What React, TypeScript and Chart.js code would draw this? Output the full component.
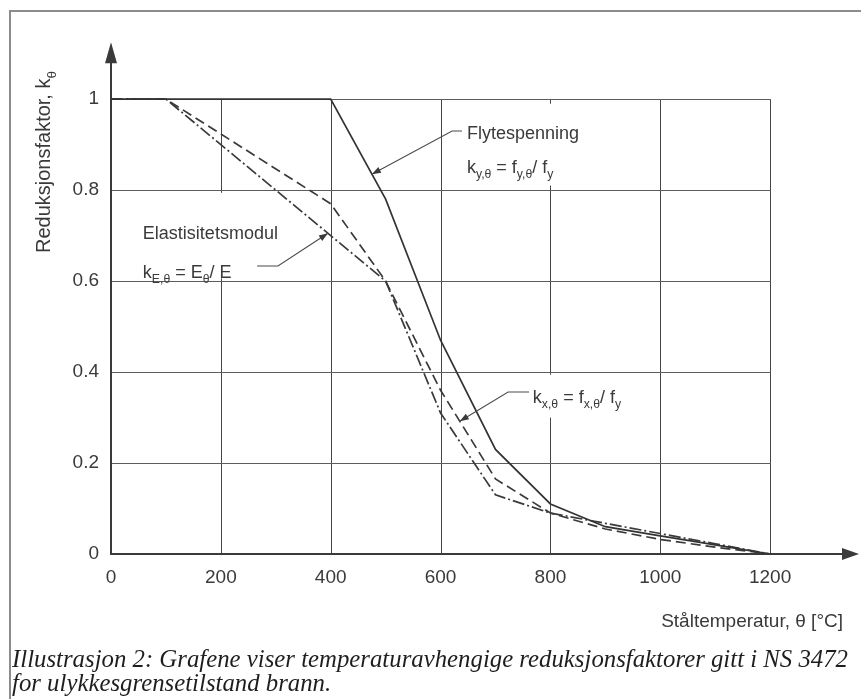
import React, { useEffect, useRef } from 'react';
import { Chart, registerables } from 'chart.js';

Chart.register(...registerables);

// ---------- data ----------
const xTicks = [0, 200, 400, 600, 800, 1000, 1200];
const yTicks = [0, 0.2, 0.4, 0.6, 0.8, 1];

// Flytespenning k_y,θ (solid)
const yieldTemps = [0, 400, 500, 600, 700, 800, 900, 1000, 1100, 1200];
const yieldFactors = [1, 1, 0.78, 0.47, 0.23, 0.11, 0.06, 0.04, 0.02, 0];

// k_x,θ (dashed)
const proofTemps = [0, 100, 400, 500, 600, 700, 800, 900, 1000, 1100, 1200];
const proofFactors = [1, 1, 0.77, 0.6, 0.36, 0.165, 0.09, 0.055, 0.032, 0.015, 0];

// Elastisitetsmodul k_E,θ (dash-dot)
const modulusTemps = [0, 100, 200, 300, 400, 500, 600, 700, 800, 900, 1000, 1100, 1200];
const modulusFactors = [1, 1, 0.9, 0.8, 0.7, 0.6, 0.31, 0.13, 0.09, 0.0675, 0.045, 0.0225, 0];

type Seg = { t: string; sub?: boolean };

const yAxisTitle: Seg[] = [{ t: 'Reduksjonsfaktor, k' }, { t: 'θ', sub: true }];
const xAxisTitle = 'Ståltemperatur, θ [°C]';
const captionLines = [
  'Illustrasjon 2: Grafene viser temperaturavhengige reduksjonsfaktorer gitt i NS 3472',
  'for ulykkesgrensetilstand brann.',
];

const flyLabel: Seg[] = [{ t: 'Flytespenning' }];
const flyFormula: Seg[] = [
  { t: 'k' }, { t: 'y,θ', sub: true }, { t: ' = f' }, { t: 'y,θ', sub: true }, { t: '/ f' }, { t: 'y', sub: true },
];
const eLabel: Seg[] = [{ t: 'Elastisitetsmodul' }];
const eFormula: Seg[] = [
  { t: 'k' }, { t: 'E,θ', sub: true }, { t: ' = E' }, { t: 'θ', sub: true }, { t: '/ E' },
];
const kxFormula: Seg[] = [
  { t: 'k' }, { t: 'x,θ', sub: true }, { t: ' = f' }, { t: 'x,θ', sub: true }, { t: '/ f' }, { t: 'y', sub: true },
];

// annotation anchors in data units (temperature, factor)
const annotations = [
  {
    lines: [
      { segs: flyLabel, at: [648, 0.912] },
      { segs: flyFormula, at: [648, 0.837] },
    ],
    leader: [[639, 0.93], [621, 0.93], [475, 0.835]],
    mask: [640, 0.99, 860, 0.81],
  },
  {
    lines: [
      { segs: eLabel, at: [58, 0.692] },
      { segs: eFormula, at: [58, 0.607] },
    ],
    leader: [[266, 0.633], [304, 0.633], [395, 0.705]],
    mask: [55, 0.794, 320, 0.606],
  },
  {
    lines: [{ segs: kxFormula, at: [768, 0.332] }],
    leader: [[761, 0.356], [723, 0.356], [635, 0.292]],
    mask: [760, 0.394, 960, 0.3],
  },
];

const X_MAX = 1360;
const Y_MAX = 1.13;
const Y_ARROW = 1.125;
const FONT = '"Liberation Sans", Arial, sans-serif';
const SERIF = '"Liberation Serif", "Times New Roman", serif';
const INK = '#3a3a3a';

function drawRich(ctx: CanvasRenderingContext2D, segs: Seg[], x: number, y: number, size: number) {
  let cx = x;
  for (const s of segs) {
    const fs = s.sub ? size * 0.68 : size;
    ctx.font = `${fs}px ${FONT}`;
    ctx.fillText(s.t, cx, s.sub ? y + size * 0.28 : y);
    cx += ctx.measureText(s.t).width;
  }
  return cx - x;
}

function richWidth(ctx: CanvasRenderingContext2D, segs: Seg[], size: number) {
  let w = 0;
  for (const s of segs) {
    const fs = s.sub ? size * 0.68 : size;
    ctx.font = `${fs}px ${FONT}`;
    w += ctx.measureText(s.t).width;
  }
  return w;
}

function arrowHead(ctx: CanvasRenderingContext2D, fx: number, fy: number, tx: number, ty: number, len: number, half: number) {
  const a = Math.atan2(ty - fy, tx - fx);
  const bx = tx - len * Math.cos(a);
  const by = ty - len * Math.sin(a);
  ctx.beginPath();
  ctx.moveTo(tx, ty);
  ctx.lineTo(bx + half * Math.sin(a), by - half * Math.cos(a));
  ctx.lineTo(bx - half * Math.sin(a), by + half * Math.cos(a));
  ctx.closePath();
  ctx.fill();
}

const decorPlugin = {
  id: 'decor',
  beforeDatasetsDraw(chart: any) {
    const { ctx, chartArea } = chart;
    const x = chart.scales.x;
    const y = chart.scales.y;
    ctx.save();
    // grid
    ctx.lineWidth = 1;
    ctx.strokeStyle = '#454545';
    for (const v of xTicks) {
      if (v === 0) continue;
      const px = Math.round(x.getPixelForValue(v)) + 0.5;
      ctx.beginPath();
      ctx.moveTo(px, y.getPixelForValue(0));
      ctx.lineTo(px, Math.round(y.getPixelForValue(1)));
      ctx.stroke();
    }
    ctx.strokeStyle = '#5c5c5c';
    for (const v of yTicks) {
      if (v === 0) continue;
      const py = Math.round(y.getPixelForValue(v)) + 0.5;
      ctx.beginPath();
      ctx.moveTo(x.getPixelForValue(0), py);
      ctx.lineTo(Math.round(x.getPixelForValue(1200)) + 1, py);
      ctx.stroke();
    }
    // label masks (grid is interrupted behind labels)
    ctx.fillStyle = '#ffffff';
    for (const an of annotations) {
      const [a, b, c, d] = an.mask;
      const x1 = x.getPixelForValue(a);
      const x2 = x.getPixelForValue(c);
      const y1 = y.getPixelForValue(b);
      const y2 = y.getPixelForValue(d);
      ctx.fillRect(x1, y1, x2 - x1, y2 - y1);
    }
    // axes
    const x0 = x.getPixelForValue(0);
    const y0 = y.getPixelForValue(0);
    const yTip = y.getPixelForValue(Y_ARROW);
    const xTip = chartArea.right + 1;
    ctx.strokeStyle = INK;
    ctx.fillStyle = INK;
    ctx.lineWidth = 2;
    ctx.beginPath();
    ctx.moveTo(x0, y0);
    ctx.lineTo(x0, yTip + 10);
    ctx.stroke();
    ctx.beginPath();
    ctx.moveTo(x0 - 1, y0);
    ctx.lineTo(xTip - 10, y0);
    ctx.stroke();
    arrowHead(ctx, x0, y0, x0, yTip, 21, 6);
    arrowHead(ctx, x0, y0, xTip, y0, 17, 6);

    // annotation texts
    ctx.textBaseline = 'alphabetic';
    ctx.textAlign = 'left';
    ctx.fillStyle = INK;
    for (const an of annotations) {
      for (const ln of an.lines) {
        const lx = x.getPixelForValue(ln.at[0]);
        const ly = y.getPixelForValue(ln.at[1]);
        drawRich(ctx, ln.segs, lx, ly, 18);
      }
    }
    ctx.restore();
  },
  afterDatasetsDraw(chart: any) {
    const { ctx } = chart;
    const x = chart.scales.x;
    const y = chart.scales.y;
    ctx.save();
    ctx.strokeStyle = '#4a4a4a';
    ctx.fillStyle = '#3a3a3a';
    ctx.lineWidth = 1.1;
    for (const an of annotations) {
      const pts = an.leader.map((p) => [x.getPixelForValue(p[0]), y.getPixelForValue(p[1])]);
      ctx.beginPath();
      ctx.moveTo(pts[0][0], pts[0][1]);
      for (let i = 1; i < pts.length; i++) ctx.lineTo(pts[i][0], pts[i][1]);
      ctx.stroke();
      const n = pts.length;
      arrowHead(ctx, pts[n - 2][0], pts[n - 2][1], pts[n - 1][0], pts[n - 1][1], 9, 3.2);
    }
    ctx.restore();
  },
  afterDraw(chart: any) {
    const { ctx } = chart;
    ctx.save();
    ctx.fillStyle = INK;
    ctx.textBaseline = 'alphabetic';
    // y-axis title (rotated)
    ctx.save();
    ctx.translate(43, 162);
    ctx.rotate(-Math.PI / 2);
    const tw = richWidth(ctx, yAxisTitle, 20);
    drawRich(ctx, yAxisTitle, -tw / 2, 7, 20);
    ctx.restore();
    // x-axis title (right aligned)
    ctx.font = `19px ${FONT}`;
    ctx.textAlign = 'right';
    ctx.fillText(xAxisTitle, 843, 627);
    // caption
    ctx.textAlign = 'left';
    ctx.fillStyle = '#1e1e1e';
    ctx.font = `italic 26px ${SERIF}`;
    const m = ctx.measureText(captionLines[0]).width;
    const sx = 836 / m;
    const baselines = [667, 691];
    captionLines.forEach((line, i) => {
      ctx.save();
      ctx.translate(12, baselines[i]);
      ctx.scale(sx, 1);
      ctx.fillText(line, 0, 0);
      ctx.restore();
    });
    ctx.restore();
  },
};

function toPoints(temps: number[], vals: number[]) {
  return temps.map((t, i) => ({ x: t, y: vals[i] }));
}

export default function App() {
  const ref = useRef<HTMLCanvasElement | null>(null);
  useEffect(() => {
    if (!ref.current) return;
    const chart = new Chart(ref.current, {
      type: 'line',
      data: {
        datasets: [
          {
            label: 'k_y,θ',
            data: toPoints(yieldTemps, yieldFactors),
            borderColor: '#333333',
            borderWidth: 1.7,
            pointRadius: 0,
            tension: 0,
          },
          {
            label: 'k_x,θ',
            data: toPoints(proofTemps, proofFactors),
            borderColor: '#3a3a3a',
            borderWidth: 1.7,
            borderDash: [10, 5],
            pointRadius: 0,
            tension: 0,
          },
          {
            label: 'k_E,θ',
            data: toPoints(modulusTemps, modulusFactors),
            borderColor: '#3a3a3a',
            borderWidth: 1.7,
            borderDash: [12, 3, 2, 3],
            pointRadius: 0,
            tension: 0,
          },
        ],
      },
      options: {
        responsive: false,
        animation: false,
        layout: { padding: { top: 40, right: 3, left: 0, bottom: 0 } },
        plugins: {
          legend: { display: false },
          tooltip: { enabled: false },
          title: { display: false },
        },
        scales: {
          x: {
            type: 'linear',
            min: 0,
            max: X_MAX,
            grid: { display: false, drawTicks: false, tickLength: 0 },
            border: { display: false },
            afterBuildTicks: (s: any) => {
              s.ticks = xTicks.map((v) => ({ value: v }));
            },
            afterFit: (s: any) => {
              s.height = 145;
            },
            ticks: {
              font: { family: FONT, size: 19 },
              color: INK,
              padding: 12,
              maxRotation: 0,
              autoSkip: false,
              callback: (v: any) => String(v),
            },
          },
          y: {
            type: 'linear',
            min: 0,
            max: Y_MAX,
            grid: { display: false, drawTicks: false, tickLength: 0 },
            border: { display: false },
            afterBuildTicks: (s: any) => {
              s.ticks = yTicks.map((v) => ({ value: v }));
            },
            afterFit: (s: any) => {
              s.width = 111;
            },
            ticks: {
              font: { family: FONT, size: 19 },
              color: INK,
              padding: 12,
              autoSkip: false,
              callback: (v: any) => (v === 0 ? '0' : v === 1 ? '1' : Number(v).toFixed(1)),
            },
          },
        },
      },
      plugins: [decorPlugin],
    });
    return () => chart.destroy();
  }, []);

  return (
    <div style={{ position: 'absolute', left: 0, top: 0, width: 861, height: 699, background: '#ffffff', overflow: 'hidden' }}>
      <div
        style={{
          position: 'absolute',
          left: 9,
          top: 10,
          width: 900,
          height: 800,
          borderTop: '2px solid #8c8c8c',
          borderLeft: '2px solid #8c8c8c',
        }}
      />
      <canvas ref={ref} width={861} height={699} style={{ position: 'absolute', left: 0, top: 0, display: 'block' }} />
    </div>
  );
}
